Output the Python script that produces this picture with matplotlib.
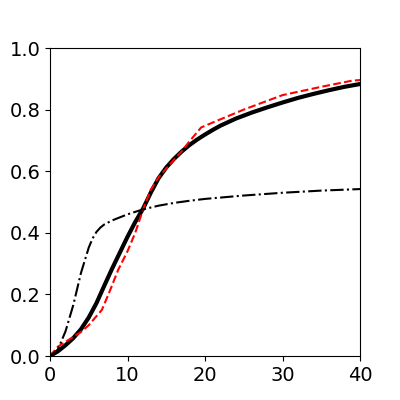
import numpy as np
import matplotlib
matplotlib.use("Agg")
import matplotlib.pyplot as plt

# courbe modele (trait plein epais)
x_model = [0, 1, 2, 3, 4, 5, 6, 7, 8, 9, 10, 11, 12, 13, 14, 15, 16, 17, 18,
           19, 20, 21, 22, 24, 26, 28, 30, 32, 34, 36, 38, 40]
y_model = [0.0, 0.015, 0.035, 0.058, 0.087, 0.125, 0.172, 0.228, 0.283,
           0.335, 0.387, 0.435, 0.478, 0.53, 0.577, 0.612, 0.64, 0.664,
           0.685, 0.703, 0.719, 0.734, 0.748, 0.771, 0.79, 0.807, 0.823,
           0.838, 0.851, 0.863, 0.874, 0.883]

# donnees (tirets rouges)
x_data = [0, 1, 2, 4, 5, 6.7, 7.7, 8.8, 10, 11, 12, 13, 14, 16, 17, 18,
          19.5, 21, 25, 30, 35, 39, 40]
y_data = [0.0, 0.03, 0.046, 0.078, 0.10, 0.15, 0.21, 0.28, 0.34, 0.40, 0.475,
          0.54, 0.58, 0.637, 0.665, 0.697, 0.742, 0.758, 0.80, 0.847, 0.874,
          0.894, 0.896]

# second modele (tiret-point)
x_alt = [0, 1, 2, 3, 4, 5, 5.5, 6, 6.5, 7, 8, 10, 12, 14, 16, 18, 20, 25, 30,
         35, 40]
y_alt = [0.0, 0.02, 0.08, 0.165, 0.27, 0.352, 0.382, 0.403, 0.417, 0.427,
         0.44, 0.46, 0.476, 0.488, 0.497, 0.504, 0.51, 0.521, 0.53, 0.537,
         0.542]

fig, ax = plt.subplots(figsize=(4, 4), dpi=100)

ax.plot(x_model, y_model, color="black", lw=3)
ax.plot(x_data, y_data, "r--", lw=1.5)
ax.plot(x_alt, y_alt, "k-.", lw=1.5)

ax.set_xlim(0, 40)
ax.set_ylim(0, 1)
ax.set_xticks([0, 10, 20, 30, 40])
ax.set_yticks([0, 0.2, 0.4, 0.6, 0.8, 1.0])
ax.tick_params(labelsize=14)
ax.set_xlabel("Elapsed time (days)", fontsize=14, labelpad=12)

fig.savefig("out.png", dpi=100)
